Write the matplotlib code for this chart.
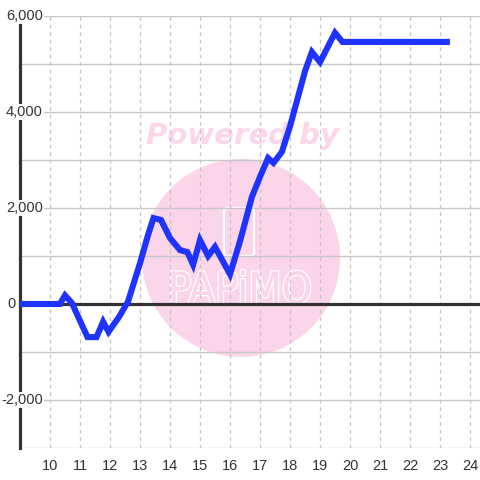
import matplotlib
matplotlib.use('Agg')
import matplotlib.pyplot as plt
import matplotlib.patheffects as pe
from matplotlib.patches import Circle, FancyBboxPatch
import matplotlib.transforms as mtransforms
import numpy as np

# hour of day and running value
hours = [9.0, 10.33, 10.5, 10.73, 11.25, 11.55, 11.77, 11.95, 12.3, 12.6,
         13.0, 13.25, 13.45, 13.7, 14.0, 14.33, 14.58, 14.77, 15.0, 15.27,
         15.5, 16.0, 16.33, 16.73, 17.0, 17.27, 17.45, 17.73, 18.0, 18.5,
         18.73, 19.0, 19.5, 19.75, 23.33]
values = [0, 0, 180, 20, -690, -690, -370, -580, -270, 50,
          850, 1400, 1790, 1750, 1375, 1125, 1080, 820, 1330, 1000,
          1190, 620, 1300, 2230, 2650, 3040, 2940, 3170, 3700, 4850,
          5250, 5040, 5650, 5460, 5460]

x_ticks = list(range(10, 25))
y_labels = [6000, 4000, 2000, 0, -2000]
y_grid = list(range(-3000, 7000, 1000))

plt.rcParams['font.family'] = ['Liberation Sans', 'DejaVu Sans']

fig = plt.figure(figsize=(4.8, 4.8), dpi=100)
ax = fig.add_axes([20 / 480, 32 / 480, 460 / 480, 432 / 480])
ax.set_xlim(9, 9 + 460 / 30)
ax.set_ylim(-3000, 6000)

# watermark
pink = '#fbd5ea'
circ = Circle((241 / 480, 1 - 258 / 480), 99 / 480, transform=fig.transFigure,
              facecolor=pink, edgecolor='none', zorder=0.1)
ax.add_patch(circ)
ax.text(242 / 480, 1 - 136 / 480, 'Powered by', transform=fig.transFigure,
        ha='center', va='center', fontsize=21, fontweight='bold', style='italic',
        family='DejaVu Sans', color='#fcd6eb', zorder=0.2)
phone = FancyBboxPatch((224 / 480, 1 - 256 / 480), 30 / 480, 48 / 480,
                       boxstyle='round,pad=0,rounding_size=0.008',
                       transform=fig.transFigure, facecolor='none',
                       edgecolor='white', lw=1.6, zorder=0.2)
ax.add_patch(phone)
ax.text(240 / 480, 1 - 291 / 480, 'PAPiMO', transform=fig.transFigure,
        ha='center', va='center', fontsize=31, family='DejaVu Sans',
        fontstretch='condensed', color=pink, zorder=0.2,
        path_effects=[pe.withStroke(linewidth=2.0, foreground='white'),
                      pe.Normal()])

# grid
for v in y_grid:
    ax.axhline(v, color='#c8c8c8', lw=1, zorder=0.5)
for h in x_ticks:
    ax.axvline(h, color='#c4c4c4', lw=0.9, ls=(0, (3, 3)), zorder=0.5)
ax.axhline(0, color='#333333', lw=2.3, zorder=1)

ax.plot(hours, values, color='#1f33ff', lw=4.4, solid_joinstyle='miter',
        solid_capstyle='butt', zorder=3)

for s in ['top', 'right', 'bottom']:
    ax.spines[s].set_visible(False)
ax.spines['left'].set_color('#333333')
ax.spines['left'].set_linewidth(2.3)
ax.spines['left'].set_zorder(2)

ax.set_xticks(x_ticks)
ax.set_xticklabels([str(h) for h in x_ticks])
ax.tick_params(axis='x', length=0, pad=8, labelsize=10.5, labelcolor='#333333')
ax.set_yticks([])

trans = mtransforms.blended_transform_factory(ax.transAxes, ax.transData)
for v in y_labels:
    # the zero label sits left of the axis, the others run over it
    xr = -4 / 460 if v == 0 else 23 / 460
    ax.text(xr, v, '{:,}'.format(v), transform=trans, ha='right', va='center',
            fontsize=10.5, color='#333333', zorder=4, clip_on=False,
            bbox=dict(facecolor='white', edgecolor='none', pad=1.0))

fig.savefig('out.png', dpi=100)
